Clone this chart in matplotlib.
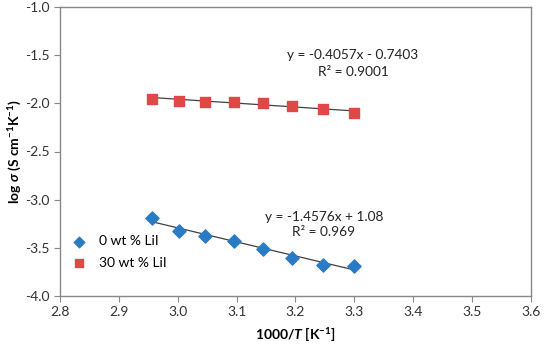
import numpy as np
import matplotlib
matplotlib.use("Agg")
import matplotlib.pyplot as plt
from matplotlib.ticker import FormatStrFormatter

# 1000/T values (K^-1) and log sigma
inv_T = [2.957, 3.002, 3.047, 3.096, 3.144, 3.194, 3.246, 3.299]
log_sigma_0 = [-3.194, -3.325, -3.374, -3.429, -3.512, -3.606, -3.678, -3.689]
log_sigma_30 = [-1.958, -1.976, -1.983, -1.983, -2.000, -2.028, -2.062, -2.104]

# trendline coefficients (slope, intercept, R^2) as printed on the chart
fit_0 = (-1.4576, 1.08, 0.969)
fit_30 = (-0.4057, -0.7403, 0.9001)

plt.rcParams['font.family'] = ['Lato', 'DejaVu Sans']
plt.rcParams['mathtext.fontset'] = 'custom'
plt.rcParams['mathtext.rm'] = 'Lato:bold'
plt.rcParams['mathtext.it'] = 'Lato:italic:bold'

fig = plt.figure(figsize=(5.5, 3.49), dpi=100)
ax = fig.add_axes([60/550, 1 - 296/349, 471/550, 289/349])

x = np.array(inv_T)
xl = np.array([x[0], x[-1]])
ax.plot(xl, fit_30[0]*xl + fit_30[1], color='#404040', lw=0.9, zorder=2)
ax.plot(xl, fit_0[0]*xl + fit_0[1], color='#404040', lw=0.9, zorder=2)

ax.scatter(inv_T, log_sigma_0, marker='D', s=45, color='#2b7bc4', label='0 wt % LiI', zorder=3)
ax.scatter(inv_T, log_sigma_30, marker='s', s=55, color='#e04848', label='30 wt % LiI', zorder=3)

txt = dict(fontsize=9.8, ha='center', va='center', color='#222222')
ax.text(3.297, -1.498, f"y = {fit_30[0]}x - {abs(fit_30[1])}", **txt)
ax.text(3.298, -1.678, f"R² = {fit_30[2]}", **txt)
ax.text(3.249, -3.177, f"y = {fit_0[0]}x + {fit_0[1]}", **txt)
ax.text(3.248, -3.333, f"R² = {fit_0[2]}", **txt)

ax.set_xlim(2.8, 3.6)
ax.set_ylim(-4.0, -1.0)
ax.set_xticks(np.arange(2.8, 3.61, 0.1))
ax.set_yticks(np.arange(-4.0, -0.99, 0.5))
ax.xaxis.set_major_formatter(FormatStrFormatter('%.1f'))
ax.yaxis.set_major_formatter(FormatStrFormatter('%.1f'))
ax.tick_params(direction='out', length=4, color='#888888', labelsize=10, labelcolor='#333333')
for s in ax.spines.values():
    s.set_color('#888888')
    s.set_linewidth(1.0)

ax.set_xlabel(r'1000/$T$ [K$^{-1}$]', fontsize=10, fontweight='bold', labelpad=5)
ax.set_ylabel(r'log $\sigma$ (S cm$^{-1}$K$^{-1}$)', fontsize=10, fontweight='bold', labelpad=1)

ax.legend(loc='lower left', bbox_to_anchor=(-0.015, 0.05), frameon=False, fontsize=10,
          handletextpad=0.4, labelspacing=0.7, markerscale=0.8)

fig.savefig('out.png', dpi=100)
